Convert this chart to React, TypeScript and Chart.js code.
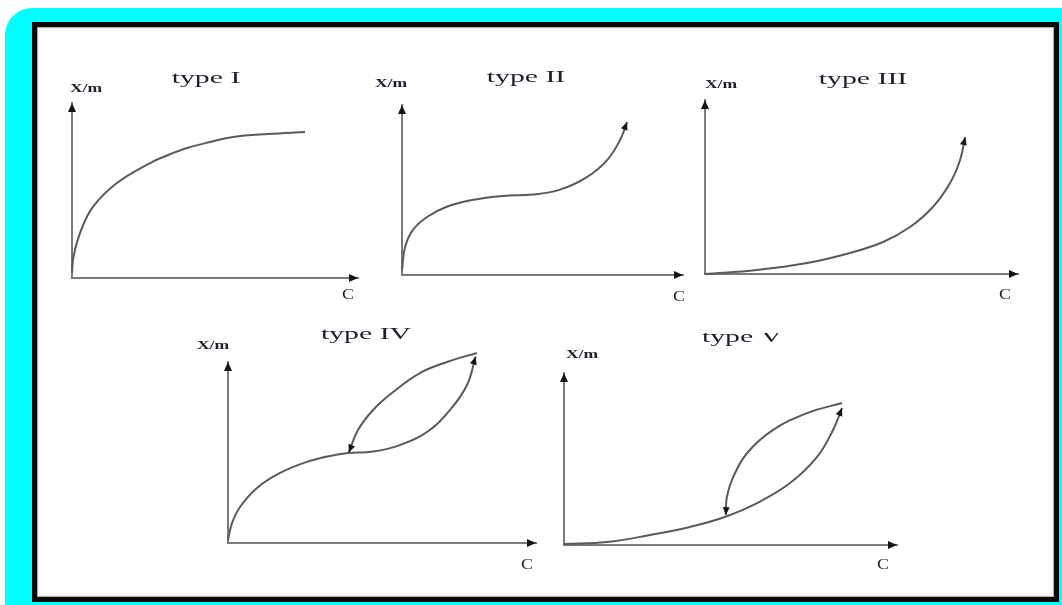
import React, { useEffect, useRef } from 'react';
import { Chart, registerables } from 'chart.js';

Chart.register(...registerables);

// ---------- data (x = concentration C, y = X/m, arbitrary 0..10 units) ----------
const titles = ['type I', 'type II', 'type III', 'type IV', 'type V'];
const yAxisLabel = 'X/m';
const xAxisLabel = 'C';

const typeIx = [0, 0.05, 0.28, 0.73, 1.57, 2.73, 3.36, 4.02, 4.83, 5.63, 6.85, 8.15];
const typeIy = [0.3, 1.2, 2.57, 4.06, 5.43, 6.57, 7.03, 7.43, 7.77, 8.06, 8.23, 8.34];

const typeIIx = [0, 0.11, 0.39, 0.89, 1.57, 2.49, 3.59, 4.66, 5.62, 6.58, 7.3, 7.76, 8.01];
const typeIIy = [0.29, 1.65, 2.65, 3.41, 4.0, 4.41, 4.65, 4.73, 5.02, 5.76, 6.76, 7.94, 9.0];

const typeIIIx = [0, 1.66, 3.26, 4.63, 5.69, 6.55, 7.28, 7.83, 8.15, 8.31];
const typeIIIy = [0, 0.23, 0.63, 1.21, 1.84, 2.7, 3.85, 5.23, 6.55, 7.87];

const typeIVupX = [0, 0.13, 0.39, 0.94, 1.69, 2.56, 3.31, 3.9, 4.71, 5.58, 6.46, 7.21, 7.76, 8.04];
const typeIVupY = [0.17, 1.1, 1.99, 3.04, 3.87, 4.48, 4.81, 4.97, 5.05, 5.41, 6.13, 7.35, 8.73, 10.3];
const typeIVdownX = [8.08, 7.11, 6.23, 5.36, 4.71, 4.22, 3.92];
const typeIVdownY = [10.5, 10.0, 9.39, 8.34, 7.35, 6.24, 5.0];

const typeVupX = [0, 1.29, 2.58, 3.78, 4.83, 5.8, 6.79, 7.6, 8.08, 8.35];
const typeVupY = [0.06, 0.17, 0.58, 1.05, 1.63, 2.44, 3.6, 5.12, 6.69, 7.97];
const typeVdownX = [8.35, 7.3, 6.28, 5.5, 5.08, 4.89, 4.86];
const typeVdownY = [8.26, 7.67, 6.69, 5.35, 3.95, 2.79, 1.74];

const axisMin = 0;
const axisMax = 10;

// ---------- layout / style ----------
const AXIS_COLOR = '#7a7a7a';
const CURVE_COLOR = '#5a5a5a';
const ARROW_COLOR = '#151515';
const TEXT_COLOR = '#1e1e2c';
const SERIF = '"Liberation Serif", "Times New Roman", serif';

const PAD = { left: 50, top: 40, right: 30, bottom: 30 };

type Curve = { x: number[]; y: number[]; arrow: boolean };
type Spec = {
  frame: { left: number; top: number; right: number; bottom: number };
  title: string;
  titlePos: [number, number];
  yLabelPos: [number, number];
  xLabelPos: [number, number];
  curves: Curve[];
};

const specs: Spec[] = [
  {
    frame: { left: 72, top: 103, right: 358, bottom: 278 },
    title: titles[0], titlePos: [206, 79], yLabelPos: [86, 89], xLabelPos: [348, 295],
    curves: [{ x: typeIx, y: typeIy, arrow: false }],
  },
  {
    frame: { left: 402, top: 105, right: 683, bottom: 275 },
    title: titles[1], titlePos: [526, 78], yLabelPos: [391, 84], xLabelPos: [679, 297],
    curves: [{ x: typeIIx, y: typeIIy, arrow: true }],
  },
  {
    frame: { left: 705, top: 100, right: 1018, bottom: 274 },
    title: titles[2], titlePos: [863, 80], yLabelPos: [721, 85], xLabelPos: [1005, 295],
    curves: [{ x: typeIIIx, y: typeIIIy, arrow: true }],
  },
  {
    frame: { left: 228, top: 362, right: 536, bottom: 543 },
    title: titles[3], titlePos: [366, 335], yLabelPos: [213, 346], xLabelPos: [527, 565],
    curves: [
      { x: typeIVupX, y: typeIVupY, arrow: true },
      { x: typeIVdownX, y: typeIVdownY, arrow: true },
    ],
  },
  {
    frame: { left: 564, top: 373, right: 897, bottom: 545 },
    title: titles[4], titlePos: [742, 338], yLabelPos: [582, 355], xLabelPos: [883, 565],
    curves: [
      { x: typeVupX, y: typeVupY, arrow: true },
      { x: typeVdownX, y: typeVdownY, arrow: true },
    ],
  },
];

function drawArrow(ctx: CanvasRenderingContext2D, tx: number, ty: number, dx: number, dy: number, len: number, half: number) {
  const m = Math.hypot(dx, dy) || 1;
  const ux = dx / m, uy = dy / m;
  const bx = tx - ux * len, by = ty - uy * len;
  ctx.beginPath();
  ctx.moveTo(tx, ty);
  ctx.lineTo(bx - uy * half, by + ux * half);
  ctx.lineTo(bx + uy * half, by - ux * half);
  ctx.closePath();
  ctx.fill();
}

function drawStretched(ctx: CanvasRenderingContext2D, text: string, x: number, y: number, font: string, sx: number) {
  ctx.save();
  ctx.font = font;
  ctx.fillStyle = TEXT_COLOR;
  ctx.textAlign = 'center';
  ctx.textBaseline = 'middle';
  ctx.translate(x, y);
  ctx.scale(sx, 1);
  ctx.fillText(text, 0, 0);
  ctx.restore();
}

function makeDecor(spec: Spec, offX: number, offY: number) {
  return {
    id: 'panelDecor',
    afterDraw(chart: any) {
      const ctx: CanvasRenderingContext2D = chart.ctx;
      const xs = chart.scales.x;
      const ys = chart.scales.y;
      ctx.save();
      ctx.fillStyle = ARROW_COLOR;
      const ox = xs.getPixelForValue(axisMin);
      const oy = ys.getPixelForValue(axisMin);
      drawArrow(ctx, xs.getPixelForValue(axisMax), oy, 1, 0, 9, 4);
      drawArrow(ctx, ox, ys.getPixelForValue(axisMax), 0, -1, 9, 4);
      spec.curves.forEach((c, i) => {
        if (!c.arrow) return;
        const meta = chart.getDatasetMeta(i);
        const pts = meta.data;
        const last = pts[pts.length - 1];
        const prev = pts[pts.length - 2];
        let dx = last.x - prev.x, dy = last.y - prev.y;
        if (typeof last.cp1x === 'number' && Math.hypot(last.x - last.cp1x, last.y - last.cp1y) > 0.5) {
          dx = last.x - last.cp1x;
          dy = last.y - last.cp1y;
        }
        drawArrow(ctx, last.x, last.y, dx, dy, 8, 3.5);
      });
      ctx.restore();
      drawStretched(ctx, spec.title, spec.titlePos[0] - offX, spec.titlePos[1] - offY, `17px ${SERIF}`, 1.75);
      drawStretched(ctx, yAxisLabel, spec.yLabelPos[0] - offX, spec.yLabelPos[1] - offY, `bold 13px ${SERIF}`, 1.35);
      drawStretched(ctx, xAxisLabel, spec.xLabelPos[0] - offX, spec.xLabelPos[1] - offY, `15px ${SERIF}`, 1.2);
    },
  };
}

function Panel({ spec }: { spec: Spec }) {
  const ref = useRef<HTMLCanvasElement>(null);
  const { frame } = spec;
  const left = frame.left - PAD.left;
  const top = frame.top - PAD.top;
  const width = frame.right - frame.left + PAD.left + PAD.right;
  const height = frame.bottom - frame.top + PAD.top + PAD.bottom;

  useEffect(() => {
    if (!ref.current) return;
    const axis = {
      type: 'linear' as const,
      min: axisMin,
      max: axisMax,
      grid: { display: false, drawTicks: false },
      ticks: { display: false },
      border: { display: true, color: AXIS_COLOR, width: 2 },
    };
    const chart = new Chart(ref.current, {
      type: 'scatter',
      data: {
        datasets: spec.curves.map((c) => ({
          data: c.x.map((v, i) => ({ x: v, y: c.y[i] })),
          showLine: true,
          borderColor: CURVE_COLOR,
          borderWidth: 2,
          pointRadius: 0,
          pointHoverRadius: 0,
          fill: false,
          tension: 0.4,
          clip: false as any,
        })),
      },
      options: {
        responsive: false,
        animation: false,
        devicePixelRatio: 1,
        events: [],
        layout: { padding: PAD },
        scales: { x: axis, y: axis },
        plugins: { legend: { display: false }, tooltip: { enabled: false }, title: { display: false } },
      },
      plugins: [makeDecor(spec, left, top)],
    });
    return () => chart.destroy();
  }, []);

  return (
    <canvas
      ref={ref}
      width={width}
      height={height}
      style={{ position: 'absolute', left, top, width, height }}
    />
  );
}

export default function App() {
  return (
    <div style={{ position: 'absolute', left: 0, top: 0, width: 1062, height: 605, overflow: 'hidden', background: '#ffffff' }}>
      <div style={{ position: 'absolute', left: 5, top: 8, right: 0, bottom: 0, background: '#00FFFF', borderTopLeftRadius: 27 }} />
      <div
        style={{
          position: 'absolute', left: 32, top: 22, width: 1027, height: 580, boxSizing: 'border-box',
          border: '5px solid #0a0a0a', background: '#ffffff', boxShadow: 'inset 0 0 1px 1px rgba(0,0,0,0.35)',
        }}
      />
      {specs.map((s, i) => (
        <Panel key={i} spec={s} />
      ))}
    </div>
  );
}
